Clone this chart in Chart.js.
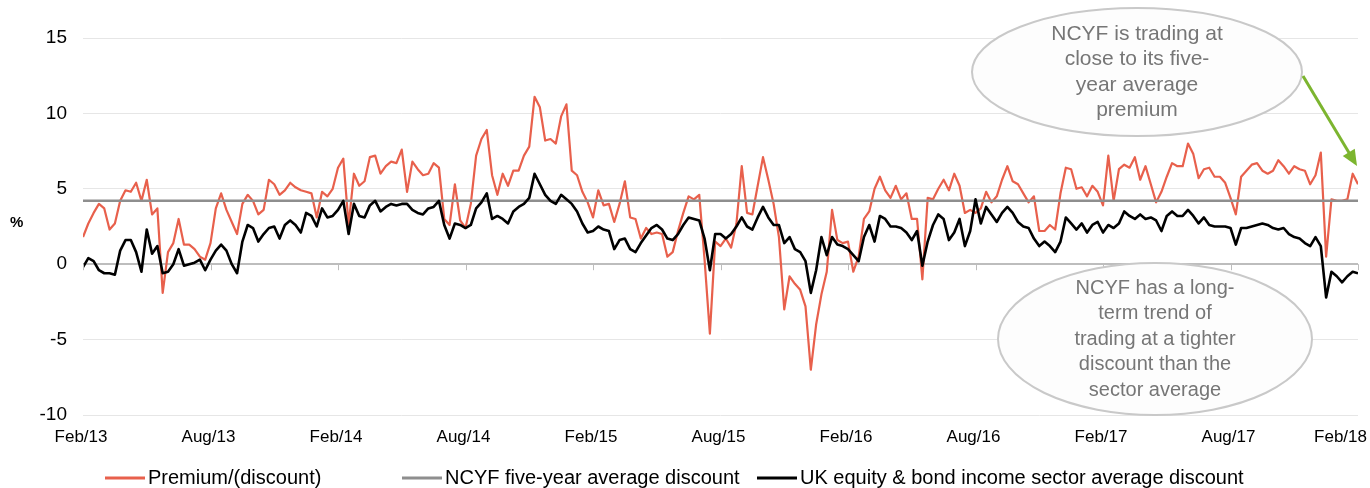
<!DOCTYPE html>
<html>
<head>
    <title>NCYF premium/(discount)</title>
    <style>
        body { margin: 0; background: #ffffff; }
        #chart-box { width: 1370px; height: 488px; position: relative; }
    </style>
</head>
<body>
    <div id="chart-box">
        <canvas id="discount-chart"></canvas>
    </div>

    <script src="https://cdn.jsdelivr.net/npm/chart.js"></script>
    <script>
        // x is months since Feb/13, one reading every quarter of a month
        const monthStep = 0.25;
        const xTickLabels = ['Feb/13', 'Aug/13', 'Feb/14', 'Aug/14', 'Feb/15', 'Aug/15', 'Feb/16', 'Aug/16', 'Feb/17', 'Aug/17', 'Feb/18'];

        // NCYF premium/(discount), %
        const premium = [
            1.8, 2.7, 3.4, 4.0, 3.7, 2.3, 2.7, 4.2, 4.9, 4.8, 5.4, 4.2, 5.6, 3.3, 3.7, -1.9, 0.8, 1.4, 3.0, 1.3, 1.3, 1.0, 0.5, 0.3, 1.4, 3.7, 4.7, 3.6,
            2.8, 2.0, 4.0, 4.6, 4.2, 3.3, 3.6, 5.6, 5.3, 4.6, 4.9, 5.4, 5.1, 4.9, 4.8, 4.7, 3.1, 4.8, 4.5, 5.0, 6.4, 7.0, 2.6, 6.0, 5.2, 5.5, 7.1, 7.2, 6.0, 6.5,
            6.8, 6.7, 7.6, 4.8, 6.8, 6.3, 5.9, 6.0, 6.7, 6.4, 3.0, 2.6, 5.3, 2.9, 2.4, 4.0, 7.2, 8.3, 8.9, 5.9, 4.6, 6.0, 5.2, 6.2, 6.2, 7.2, 7.8, 11.1, 10.4, 8.2,
            8.3, 8.0, 9.8, 10.6, 6.2, 5.9, 4.8, 4.1, 3.1, 4.9, 3.9, 4.0, 2.8, 4.0, 5.5, 3.1, 3.0, 1.7, 2.4, 2.0, 2.1, 2.0, 0.5, 0.8, 2.2, 3.4, 4.5, 4.3, 4.6, 0.3,
            -4.6, 1.5, 1.2, 1.7, 1.1, 2.7, 6.5, 3.4, 3.3, 5.2, 7.1, 5.6, 4.0, 1.8, -3.0, -0.8, -1.3, -1.7, -2.8, -7.0, -4.0, -2.0, -0.5, 3.6, 1.6, 1.4, 1.5, -0.5, 0.5, 3.0,
            3.5, 5.0, 5.8, 4.9, 4.4, 5.2, 4.3, 4.7, 3.0, 3.0, -1.0, 4.4, 4.3, 5.0, 5.6, 4.9, 6.0, 5.2, 3.4, 3.6, 3.4, 3.7, 4.8, 4.1, 4.5, 5.6, 6.5, 5.5, 5.3, 4.7,
            4.1, 4.5, 2.2, 2.2, 2.6, 2.3, 4.7, 6.4, 6.3, 5.0, 5.1, 4.5, 5.2, 4.8, 3.9, 7.2, 4.2, 6.3, 6.6, 6.4, 7.1, 5.6, 6.5, 5.3, 4.1, 4.8, 5.8, 6.7, 6.5, 6.5,
            8.0, 7.3, 5.7, 6.3, 6.4, 5.8, 5.8, 5.4, 4.4, 3.3, 5.8, 6.2, 6.6, 6.7, 6.2, 6.0, 6.2, 6.9, 6.5, 6.0, 6.5, 6.3, 6.2, 5.3, 5.9, 7.4, 0.5, 4.3, 4.2, 4.2, 4.3, 6.0, 5.3
        ];

        // UK equity & bond income sector average discount, %
        const sectorDiscount = [
            -0.2, 0.4, 0.2, -0.4, -0.6, -0.6, -0.7, 0.9, 1.6, 1.6, 0.8, -0.5, 2.3, 0.7, 1.2, -0.6, -0.5, 0.0, 1.0, -0.1, 0.0, 0.1, 0.3, -0.4, 0.3, 0.9, 1.3, 0.9,
            0.0, -0.6, 1.5, 2.6, 2.4, 1.5, 2.0, 2.4, 2.5, 1.7, 2.6, 2.9, 2.6, 2.1, 3.4, 3.2, 2.5, 3.7, 3.1, 3.2, 3.6, 4.2, 2.0, 4.0, 3.2, 3.1, 3.9, 4.2, 3.5, 3.8,
            4.0, 3.9, 4.0, 4.0, 3.6, 3.4, 3.3, 3.7, 3.8, 4.2, 2.6, 1.7, 2.7, 2.6, 2.4, 2.6, 3.7, 4.1, 4.7, 3.0, 3.2, 3.0, 2.7, 3.5, 3.8, 4.0, 4.4, 6.0, 5.3, 4.6,
            4.2, 4.0, 4.6, 4.3, 4.0, 3.5, 2.7, 2.1, 2.2, 2.5, 2.3, 2.2, 1.0, 1.6, 1.7, 1.0, 0.8, 1.4, 1.9, 2.4, 2.6, 2.3, 1.7, 1.6, 2.0, 2.6, 3.1, 3.0, 2.9, 1.7,
            -0.4, 2.0, 2.0, 1.7, 2.0, 2.5, 3.1, 2.5, 2.3, 3.1, 3.8, 3.1, 2.6, 2.6, 1.4, 1.8, 1.0, 0.8, 0.2, -1.9, -0.4, 1.8, 0.6, 1.8, 1.3, 1.2, 1.0, 0.6, 0.2, 1.8,
            2.6, 1.5, 3.2, 3.0, 2.5, 2.5, 2.4, 2.1, 1.6, 2.2, -0.1, 1.5, 2.6, 3.3, 3.0, 1.6, 2.1, 3.0, 1.2, 2.2, 4.3, 2.7, 3.8, 3.3, 2.8, 3.4, 3.8, 3.4, 2.8, 2.5,
            2.4, 1.7, 1.2, 1.5, 1.2, 0.8, 1.5, 3.1, 2.7, 2.3, 2.7, 2.1, 2.6, 2.8, 2.1, 2.6, 2.4, 2.7, 3.5, 3.2, 3.0, 3.3, 3.0, 3.1, 2.9, 2.2, 3.2, 3.5, 3.2, 3.2,
            3.6, 3.2, 2.7, 3.1, 2.6, 2.5, 2.5, 2.5, 2.4, 1.3, 2.4, 2.4, 2.5, 2.6, 2.7, 2.6, 2.4, 2.3, 2.4, 2.0, 1.8, 1.7, 1.4, 1.2, 1.8, 1.2, -2.2, -0.5, -0.8, -1.2, -0.8, -0.5, -0.6
        ];

        // NCYF five-year average, %
        const avgDiscount = 4.2;

        const seriesNames = ['Premium/(discount)', 'NCYF five-year average discount', 'UK equity & bond income sector average discount'];
        const seriesColors = ['#e8604c', '#8e8e8e', '#000000'];

        const noteTop = ['NCYF is trading at', 'close to its five-', 'year average', 'premium'];
        const noteBottom = ['NCYF has a long-', 'term trend of', 'trading at a tighter', 'discount than the', 'sector average'];

        const fontFamily = '"Liberation Sans", Arial, sans-serif';
        const lastMonth = (premium.length - 1) * monthStep;

        function toPoints(values) {
            return values.map((v, i) => ({ x: i * monthStep, y: v }));
        }

        // Draw a grey ellipse callout with centred text
        function drawNote(ctx, cx, cy, rx, ry, lines, size) {
            ctx.save();
            ctx.beginPath();
            ctx.ellipse(cx, cy, rx, ry, 0, 0, Math.PI * 2);
            ctx.fillStyle = '#fdfdfd';
            ctx.fill();
            ctx.lineWidth = 2;
            ctx.strokeStyle = '#c9c9c9';
            ctx.stroke();
            ctx.fillStyle = '#767676';
            ctx.font = size + 'px ' + fontFamily;
            ctx.textAlign = 'center';
            ctx.textBaseline = 'middle';
            const lineHeight = 25.5;
            const top = cy - (lines.length - 1) * lineHeight / 2;
            lines.forEach((line, i) => ctx.fillText(line, cx, top + i * lineHeight));
            ctx.restore();
        }

        const extrasPlugin = {
            id: 'extras',
            afterDraw(chart) {
                const ctx = chart.ctx;
                const area = chart.chartArea;
                const xs = chart.scales.x;
                const ys = chart.scales.y;
                const y0 = ys.getPixelForValue(0);

                ctx.save();
                // small tick marks on the zero axis, date labels under the plot
                ctx.strokeStyle = '#bdbdbd';
                ctx.lineWidth = 1;
                ctx.fillStyle = '#000';
                ctx.font = '17px ' + fontFamily;
                ctx.textAlign = 'center';
                ctx.textBaseline = 'middle';
                xTickLabels.forEach((label, i) => {
                    const px = xs.getPixelForValue(i * 6);
                    const x = Math.round(px) + 0.5;
                    ctx.beginPath();
                    ctx.moveTo(x, y0);
                    ctx.lineTo(x, y0 + 6);
                    ctx.stroke();
                    const half = ctx.measureText(label).width / 2;
                    ctx.fillText(label, Math.min(px - 2, chart.width - 3 - half), area.bottom + 22);
                });

                // axis unit
                ctx.font = 'bold 15px ' + fontFamily;
                ctx.textAlign = 'left';
                ctx.fillText('%', 10, (area.top + area.bottom) / 2 - 4);

                // callouts
                drawNote(ctx, 1137, 72, 165, 64, noteTop, 21);
                drawNote(ctx, 1155, 339, 157, 76, noteBottom, 20);

                // green arrow to the latest premium
                const x1 = 1303, y1 = 76, x2 = 1357, y2 = 166;
                const ang = Math.atan2(y2 - y1, x2 - x1);
                ctx.strokeStyle = '#7cb52f';
                ctx.fillStyle = '#7cb52f';
                ctx.lineWidth = 3;
                ctx.beginPath();
                ctx.moveTo(x1, y1);
                ctx.lineTo(x2 - 12 * Math.cos(ang), y2 - 12 * Math.sin(ang));
                ctx.stroke();
                ctx.beginPath();
                ctx.moveTo(x2, y2);
                ctx.lineTo(x2 - 16 * Math.cos(ang) + 7 * Math.sin(ang), y2 - 16 * Math.sin(ang) - 7 * Math.cos(ang));
                ctx.lineTo(x2 - 16 * Math.cos(ang) - 7 * Math.sin(ang), y2 - 16 * Math.sin(ang) + 7 * Math.cos(ang));
                ctx.closePath();
                ctx.fill();

                // legend along the bottom
                const legendX = [105, 402, 757];
                const ly = 478;
                ctx.font = '20px ' + fontFamily;
                ctx.textAlign = 'left';
                ctx.textBaseline = 'middle';
                seriesNames.forEach((name, i) => {
                    ctx.strokeStyle = seriesColors[i];
                    ctx.lineWidth = 3;
                    ctx.beginPath();
                    ctx.moveTo(legendX[i], ly);
                    ctx.lineTo(legendX[i] + 40, ly);
                    ctx.stroke();
                    ctx.fillStyle = '#000';
                    ctx.fillText(name, legendX[i] + 43, ly);
                });
                ctx.restore();
            }
        };

        const ctx = document.getElementById('discount-chart').getContext('2d');
        new Chart(ctx, {
            type: 'line',
            data: {
                datasets: [
                    {
                        label: seriesNames[0],
                        data: toPoints(premium),
                        borderColor: seriesColors[0],
                        borderWidth: 2.2,
                        order: 3
                    },
                    {
                        label: seriesNames[1],
                        data: [{ x: 0, y: avgDiscount }, { x: lastMonth, y: avgDiscount }],
                        borderColor: seriesColors[1],
                        borderWidth: 2.5,
                        order: 2
                    },
                    {
                        label: seriesNames[2],
                        data: toPoints(sectorDiscount),
                        borderColor: seriesColors[2],
                        borderWidth: 2.6,
                        order: 1
                    }
                ]
            },
            options: {
                responsive: true,
                maintainAspectRatio: false,
                animation: false,
                layout: { padding: { left: 0, right: 12, top: 38, bottom: 40 } },
                elements: {
                    point: { radius: 0 },
                    line: { tension: 0, borderJoinStyle: 'round' }
                },
                plugins: {
                    legend: { display: false },
                    tooltip: { enabled: false }
                },
                scales: {
                    x: {
                        type: 'linear',
                        min: 0,
                        max: lastMonth,
                        grid: { display: false, drawTicks: false },
                        border: { display: false },
                        // labels are drawn by the extras plugin so the last one can stay inside the canvas
                        ticks: { display: false },
                        afterFit(scale) {
                            scale.height = 33;
                            scale.paddingLeft = 0;
                            scale.paddingRight = 0;
                        }
                    },
                    y: {
                        min: -10,
                        max: 15,
                        afterFit(scale) { scale.width = 83; },
                        grid: {
                            drawTicks: false,
                            color: (c) => c.tick.value === 0 ? '#bdbdbd' : '#e6e6e6',
                            lineWidth: (c) => c.tick.value === 0 ? 2 : 1
                        },
                        border: { display: false },
                        ticks: {
                            stepSize: 5,
                            padding: 16,
                            color: '#000',
                            font: { family: fontFamily, size: 19 }
                        }
                    }
                }
            },
            plugins: [extrasPlugin]
        });
    </script>
</body>
</html>
